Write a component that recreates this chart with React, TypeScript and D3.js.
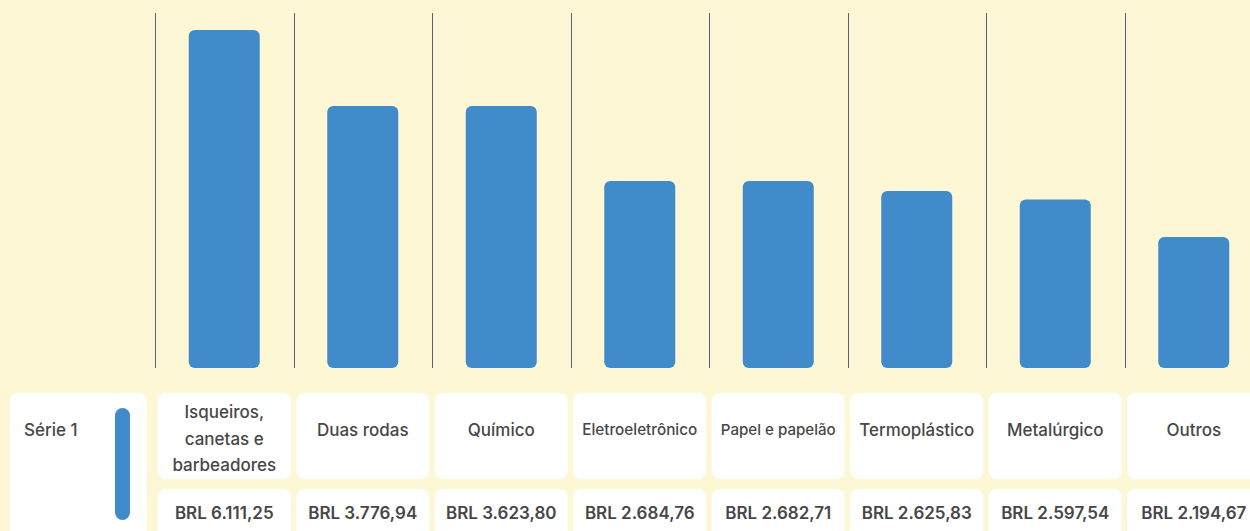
import { useMemo } from 'react';
import { scaleBand, scaleLinear } from 'd3';

const SERIES_NAME = 'Série 1';
const categories = [
  'Isqueiros, canetas e barbeadores',
  'Duas rodas',
  'Químico',
  'Eletroeletrônico',
  'Papel e papelão',
  'Termoplástico',
  'Metalúrgico',
  'Outros',
];
const valueLabels = [
  'BRL 6.111,25',
  'BRL 3.776,94',
  'BRL 3.623,80',
  'BRL 2.684,76',
  'BRL 2.682,71',
  'BRL 2.625,83',
  'BRL 2.597,54',
  'BRL 2.194,67',
];
// bar heights as drawn in the picture (the printed labels are not to scale)
const barValues = [6111, 4737, 4737, 3381, 3381, 3200, 3047, 2369];
const Y_MAX = 6420;

const W = 1250;
const H = 531;
const BG = '#fdf7d6';
const BAR = '#418bca';
const TEXT = '#474747';
const GRID = '#56617e';
const FONT = 'Inter, "Open Sans", sans-serif';
const HEAD_SIZE = 17;
const HEAD_MAX_W = 115;

const PLOT_TOP = 13;
const BASE = 368;
const BAR_W = 71;
const HEAD_Y = 393;
const HEAD_H = 86;
const VAL_Y = 489;

let ctx: CanvasRenderingContext2D | null = null;
function measure(s: string, size: number, weight = 500) {
  if (!ctx) ctx = document.createElement('canvas').getContext('2d');
  if (!ctx) return s.length * size * 0.55;
  ctx.font = `${weight} ${size}px Inter`;
  return ctx.measureText(s).width;
}

// one line shrunk a little if it nearly fits, otherwise greedy word wrap
function layoutLabel(label: string) {
  const w = measure(label, HEAD_SIZE);
  const fit = HEAD_MAX_W / w;
  if (fit >= 1) return { lines: [label], size: HEAD_SIZE };
  if (fit >= 0.75) return { lines: [label], size: HEAD_SIZE * fit };
  const lines: string[] = [];
  let cur = '';
  for (const word of label.split(' ')) {
    const next = cur ? `${cur} ${word}` : word;
    if (cur && measure(next, HEAD_SIZE) > HEAD_MAX_W) {
      lines.push(cur);
      cur = word;
    } else cur = next;
  }
  if (cur) lines.push(cur);
  return { lines, size: HEAD_SIZE };
}

export default function App() {
  const x = useMemo(
    () => scaleBand<string>().domain(categories).range([155, 1263]).paddingInner(0.04).paddingOuter(0.02),
    []
  );
  const y = useMemo(() => scaleLinear().domain([0, Y_MAX]).range([BASE, PLOT_TOP]), []);
  const labels = useMemo(() => categories.map(layoutLabel), []);
  const gap = x.step() - x.bandwidth();

  return (
    <div style={{ position: 'fixed', left: 0, top: 0 }}>
      <svg width={W} height={H} style={{ display: 'block' }} fontFamily={FONT}>
        <rect width={W} height={H} fill={BG} />

        {categories.map((c) => (
          <line
            key={`g-${c}`}
            x1={Math.round(x(c)! - gap / 2) + 0.5}
            x2={Math.round(x(c)! - gap / 2) + 0.5}
            y1={PLOT_TOP}
            y2={BASE}
            stroke={GRID}
            strokeWidth={1}
          />
        ))}

        {categories.map((c, i) => (
          <rect
            key={`b-${c}`}
            x={x(c)! + x.bandwidth() / 2 - BAR_W / 2}
            y={y(barValues[i])}
            width={BAR_W}
            height={y(0) - y(barValues[i])}
            rx={6}
            fill={BAR}
          />
        ))}

        {/* series label cell */}
        <rect x={10} y={HEAD_Y} width={137} height={200} rx={8} fill="#fff" />
        <text x={24} y={430} dominantBaseline="central" fontSize={17} fontWeight={500} fill={TEXT}>
          {SERIES_NAME}
        </text>
        <rect x={115} y={408} width={15} height={112} rx={7.5} fill={BAR} />

        {categories.map((c, i) => {
          const cx = x(c)! + x.bandwidth() / 2;
          const { lines, size } = labels[i];
          const lh = 26.7;
          const cy = lines.length > 1 ? 438.5 : 429.5;
          const y0 = cy - ((lines.length - 1) * lh) / 2;
          return (
            <g key={`c-${c}`}>
              <rect x={x(c)} y={HEAD_Y} width={x.bandwidth()} height={HEAD_H} rx={8} fill="#fff" />
              <text textAnchor="middle" fontSize={size} fontWeight={500} fill={TEXT}>
                {lines.map((l, k) => (
                  <tspan key={k} x={cx} y={y0 + k * lh} dominantBaseline="central">
                    {l}
                  </tspan>
                ))}
              </text>
              <rect x={x(c)} y={VAL_Y} width={x.bandwidth()} height={100} rx={8} fill="#fff" />
              <text
                x={cx}
                y={513}
                textAnchor="middle"
                dominantBaseline="central"
                fontSize={17}
                fontWeight={600}
                fill={TEXT}
              >
                {valueLabels[i]}
              </text>
            </g>
          );
        })}
      </svg>
    </div>
  );
}
